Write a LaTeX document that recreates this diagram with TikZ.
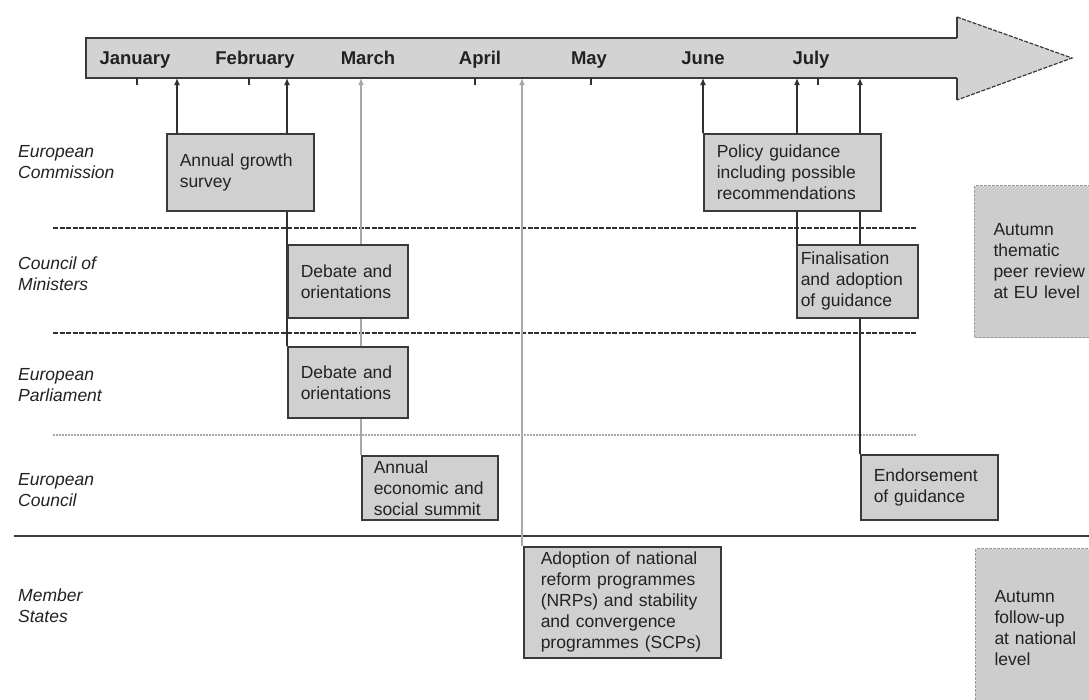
\documentclass[tikz,border=0pt]{standalone}
\usepackage{fontspec}
\setmainfont{Liberation Sans}
\usetikzlibrary{arrows.meta,backgrounds}
\hyphenpenalty=10000
\exhyphenpenalty=10000
\definecolor{boxfill}{HTML}{D0D0D0}
\definecolor{barfill}{HTML}{D3D3D3}
\definecolor{boxline}{HTML}{3A3A3A}
\definecolor{linec}{HTML}{303030}
\definecolor{lightline}{HTML}{A8A8A8}
\definecolor{textc}{HTML}{222222}
\definecolor{autfill}{HTML}{CDCDCD}
\definecolor{autline}{HTML}{9A9A9A}
\tikzset{
  boxnode/.style={draw=boxline, line width=1.5pt, fill=boxfill, anchor=north west,
    align=left, inner xsep=13pt, inner ysep=0pt, text=textc,
    font=\fontsize{17.5}{21}\selectfont},
  autnode/.style={boxnode, draw=autline, line width=1pt, dash pattern=on 3pt off 1pt,
    fill=autfill, inner xsep=19pt},
  month/.style={font=\fontsize{18.5}{22}\selectfont\bfseries, text=textc, inner sep=0pt, anchor=base},
  lane/.style={font=\fontsize{17.5}{21}\selectfont\itshape, text=textc, anchor=west,
    align=left, inner sep=0pt},
  conn/.style={draw=linec, line width=1.3pt, -{Latex[length=7pt,width=6pt]}},
  lconn/.style={draw=lightline, line width=1.5pt, -{Latex[length=7pt,width=6pt]}},
  sepdash/.style={draw=linec, line width=1.2pt, dash pattern=on 5pt off 1.5pt},
  seplight/.style={draw=lightline, line width=1.2pt, dash pattern=on 2pt off 1pt},
  barline/.style={draw=boxline, line width=1.5pt},
  tick/.style={draw=linec, line width=1.3pt}
}
\begin{document}
\begin{tikzpicture}[x=1pt,y=-1pt]
\useasboundingbox (0,0) rectangle (1089,699);

% timeline arrow
\fill[barfill] (86,38) -- (957,38) -- (957,17) -- (1072,58) -- (957,100) -- (957,78) -- (86,78) -- cycle;
\draw[barline] (957,38) -- (86,38) -- (86,78) -- (957,78);
\draw[barline] (957,38) -- (957,17);
\draw[barline] (957,78) -- (957,100);
\draw[barline, line width=1.2pt, dash pattern=on 4pt off 1.5pt] (957,17) -- (1072,58) -- (957,100);

% month labels
\node[month] (mJan) at (135,64) {January};
\node[month] (mFeb) at (255,64) {February};
\node[month] (mMar) at (368,64) {March};
\node[month] (mApr) at (480,64) {April};
\node[month] (mMay) at (589,64) {May};
\node[month] (mJun) at (703,64) {June};
\node[month] (mJul) at (811,64) {July};

% ticks
\foreach \tx in {137,249,475,591,818} \draw[tick] (\tx,78) -- (\tx,85);

% arrow targets on bar
\coordinate (tJan) at (177,78);
\coordinate (tFeb) at (287,78);
\coordinate (tMar) at (361,78);
\coordinate (tApr) at (522,78);
\coordinate (tJun) at (703,78);
\coordinate (tJul) at (797,78);
\coordinate (tJulb) at (860,78);

% lane labels
\node[lane] (lEC) at (18,162) {European\\Commission};
\node[lane] (lCM) at (18,274) {Council of\\Ministers};
\node[lane] (lEP) at (18,385) {European\\Parliament};
\node[lane] (lECo) at (18,490) {European\\Council};
\node[lane] (lMS) at (18,606) {Member\\States};

% boxes
\node[boxnode, text width=121pt, minimum height=77pt] (ags) at (166,133) {Annual growth\\survey};
\node[boxnode, text width=94pt, minimum height=73pt] (cmdeb) at (287,244) {Debate and\\orientations};
\node[boxnode, text width=94pt, minimum height=71pt] (epdeb) at (287,346) {Debate and\\orientations};
\node[boxnode, inner xsep=12pt, text width=112pt, minimum height=64pt] (summit) at (361,455) {Annual\\economic and\\social summit};
\node[boxnode, inner xsep=17pt, text width=163pt, minimum height=111pt] (nrp) at (523,546) {Adoption of national\\reform programmes\\(NRPs) and stability\\and convergence\\programmes (SCPs)};
\node[boxnode, text width=151pt, minimum height=77pt] (policy) at (703,133) {Policy guidance\\including possible\\recommendations};
\node[boxnode, inner xsep=4pt, text width=113pt, minimum height=73pt] (final) at (796,244) {Finalisation\\and adoption\\of guidance};
\node[boxnode, text width=111pt, minimum height=65pt] (endorse) at (860,454) {Endorsement\\of guidance};
\node[autnode, text width=100pt, minimum height=152pt] (aut1) at (974,185) {Autumn\\thematic\\peer review\\at EU level};
\node[autnode, text width=100pt, minimum height=160pt] (aut2) at (975,548) {Autumn\\follow-up\\at national\\level};

% connectors and separators behind the boxes
\begin{scope}[on background layer]
\fill[white] (0,0) rectangle (1089,699);
\draw[sepdash] (53,228) -- (917,228);
\draw[sepdash] (53,333) -- (917,333);
\draw[seplight] (53,435) -- (917,435);
\draw[draw=boxline, line width=1.3pt] (14,536) -- (1089,536);
\draw[conn] (tJan |- ags.north) -- (tJan);
\draw[conn] (tFeb |- epdeb.north) -- (tFeb);
\draw[lconn] (tMar |- summit.north) -- (tMar);
\draw[lconn] (tApr |- nrp.north) -- (tApr);
\draw[conn] (tJun |- policy.north) -- (tJun);
\draw[conn] (tJul |- final.north) -- (tJul);
\draw[conn] (tJulb |- endorse.north) -- (tJulb);
\end{scope}
\end{tikzpicture}
\end{document}
